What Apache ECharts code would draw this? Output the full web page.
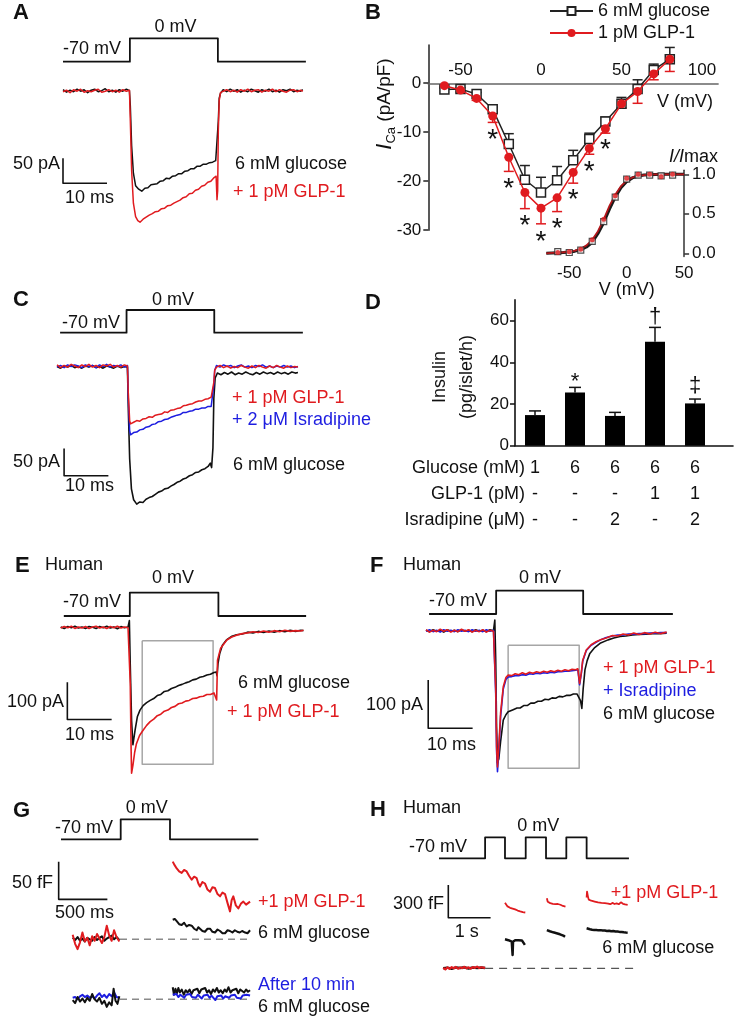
<!DOCTYPE html>
<html><head><meta charset="utf-8">
<script src="https://cdn.jsdelivr.net/npm/echarts@6.0.0/dist/echarts.min.js"></script>
<style>html,body{margin:0;padding:0;background:#fff}#c{width:741px;height:1020px}</style>
</head><body><div id="c"></div><script>
// ================= DATA =================
// Panel A (mouse beta cell, ms / pA / mV)
const stepA_mV = [[0,-70],[15.2,-70],[15.2,0],[35.2,0],[35.2,-70],[55.2,-70]];
const glucoseA_pA = [[0,2],[0.8,-3],[1.6,1],[2.4,-2],[3.2,3],[4,-1],[4.8,2],[5.6,-4],[6.4,1],[7.2,3],[8,-2],[8.8,0],[9.6,4],[10.4,-2],[11.2,1],[12,-3],[12.8,2],[13.6,-1],[14.4,3],[15.1,0],
[15.3,-30],[15.6,-110],[16,-165],[16.5,-190],[17.2,-197],[17.9,-201],[18.6,-195],[19.3,-194],[20,-188],[20.7,-187],[21.4,-186],[22.1,-181],[22.8,-180],[23.5,-175],[24.2,-176],[24.9,-171],[25.6,-170],[26.3,-166],[27,-166],[27.7,-161],[28.4,-160],[29.1,-156],[29.8,-156],[30.5,-151],[31.2,-151],[31.9,-147],[32.6,-147],[33.3,-144],[34,-143],[34.7,-140],[35.1,-142],
[35.3,-60],[35.5,-15],[35.8,-5],[36.4,2],[37.2,-2],[38,3],[38.8,-1],[39.6,2],[40.4,-3],[41.2,1],[42,-2],[42.8,3],[43.6,0],[44.4,-3],[45.2,2],[46,-1],[46.8,3],[47.6,-2],[48.4,1],[49.2,-3],[50,2],[50.8,0],[51.6,3],[52.4,-2],[53.2,1],[54,-1],[54.5,2]];
const glp1A_pA = [[0,-2],[0.8,1],[1.6,-4],[2.4,2],[3.2,-1],[4,3],[4.8,-3],[5.6,0],[6.4,-2],[7.2,1],[8,3],[8.8,-3],[9.6,-1],[10.4,2],[11.2,-2],[12,1],[12.8,-3],[13.6,2],[14.4,-1],[15.1,1],
[15.3,-60],[15.6,-160],[16,-225],[16.5,-252],[17,-260],[17.5,-263],[18.2,-257],[18.9,-253],[19.6,-249],[20.3,-246],[21,-242],[21.7,-241],[22.4,-236],[23.1,-235],[23.8,-230],[24.5,-229],[25.2,-225],[25.9,-222],[26.6,-219],[27.3,-214],[28,-212],[28.7,-206],[29.4,-205],[30.1,-199],[30.8,-197],[31.5,-191],[32.2,-189],[32.9,-183],[33.6,-181],[34.2,-175],[34.8,-171],[35.0,-218],[35.15,-200],
[35.3,-80],[35.5,-20],[35.8,-4],[36.4,-1],[37.2,2],[38,-2],[38.8,1],[39.6,-3],[40.4,2],[41.2,-1],[42,3],[42.8,-2],[43.6,1],[44.4,2],[45.2,-3],[46,1],[46.8,-1],[47.6,3],[48.4,-2],[49.2,2],[50,-1],[50.8,-3],[51.6,1],[52.4,2],[53.2,-2],[54,1],[54.5,-1]];
const scaleA = {ms: 10, pA: 50};

// Panel B: I-V relation (mV, pA/pF)
const ivVoltage = [-60,-50,-40,-30,-20,-10,0,10,20,30,40,50,60,70,80];
const ivGlucose = [-1.3,-1.2,-2.2,-5.3,-12.4,-19.7,-22.3,-19.8,-15.7,-11.4,-7.8,-4.2,-1.2,2.7,4.9];
const ivGlucoseSem = [0.3,0.3,0.3,0.4,2.1,2.9,3.1,2.8,2.0,1.2,0.9,1.3,1.9,1.2,2.4];
const ivGlp1 = [-0.5,-1.4,-3.1,-6.7,-15.1,-22.3,-25.5,-23.4,-18.2,-13.3,-9.3,-4.2,-1.7,1.9,4.9];
const ivGlp1Sem = [0.3,0.4,0.4,1.3,2.9,3.3,3.2,2.8,2.2,1.2,0.9,0.8,2.4,1.2,2.5];
const ivSigVoltage = [-30,-20,-10,0,10,20,30,40];
const ivSigLevel = [-10.2,-20.1,-27.6,-31.0,-28.2,-22.4,-16.7,-12.2];
const ivSeriesNames = ['6 mM glucose','1 pM GLP-1'];
// Panel B inset: activation (I/Imax)
const actVoltage = [-60,-50,-40,-30,-20,-10,0,10,20,30,40];
const actGlucose = [0.02,0.01,0.04,0.15,0.40,0.71,0.94,0.99,0.99,0.98,0.99];
const actGlp1 = [0.01,0.02,0.05,0.17,0.43,0.73,0.95,1.0,1.0,0.97,1.0];
const fitVoltage = [-70,-65,-60,-55,-50,-45,-40,-35,-30,-25,-20,-15,-10,-5,0,5,10,15,20,25,30,35,40,45,50];
const fitGlucose = [0,0.003,0.006,0.01,0.016,0.027,0.045,0.08,0.14,0.25,0.39,0.56,0.71,0.83,0.91,0.955,0.978,0.99,0.995,0.998,1,1,1,1,1];
const fitGlp1 = [0,0.004,0.008,0.013,0.021,0.035,0.058,0.1,0.17,0.28,0.43,0.6,0.74,0.85,0.92,0.96,0.98,0.99,0.996,0.998,1,1,1,1,1];

// Panel C (ms / pA)
const stepC_mV = [[0.7,-70],[15.7,-70],[15.7,0],[35.5,0],[35.5,-70],[55.5,-70]];
const glp1C_pA = [[0,2],[0.8,-3],[1.6,1],[2.4,-2],[3.2,3],[4,0],[4.8,-3],[5.6,2],[6.4,-1],[7.2,3],[8,-2],[8.8,1],[9.6,-3],[10.4,2],[11.2,0],[12,3],[12.8,-2],[13.6,1],[14.4,-2],[15.2,2],[15.9,0],
[16.1,-50],[16.4,-100],[16.6,-106],[17.3,-103],[18,-100],[18.7,-101],[19.4,-97],[20.1,-96],[20.8,-93],[21.5,-94],[22.2,-90],[22.9,-89],[23.6,-88],[24.3,-84],[25,-85],[25.7,-81],[26.4,-80],[27.1,-78],[27.8,-77],[28.5,-73],[29.2,-72],[29.9,-70],[30.6,-69],[31.3,-66],[32,-64],[32.7,-64],[33.4,-61],[34.1,-60],[34.8,-57],[35.2,-55],
[35.4,-30],[35.6,-8],[36,-2],[36.8,1],[37.6,-3],[38.4,0],[39.2,-4],[40,-1],[40.8,-3],[41.6,1],[42.4,-2],[43.2,-4],[44,0],[44.8,-3],[45.6,1],[46.4,-2],[47.2,-4],[48,0],[48.8,-3],[49.6,1],[50.4,-2],[51.2,-4],[52,0],[52.8,-3],[53.6,-1],[54.4,-2]];
const isradipineC_pA = [[0,-2],[0.8,1],[1.6,-3],[2.4,2],[3.2,-1],[4,2],[4.8,0],[5.6,-3],[6.4,2],[7.2,-1],[8,1],[8.8,-3],[9.6,2],[10.4,-1],[11.2,3],[12,-2],[12.8,1],[13.6,-1],[14.4,2],[15.2,-2],[15.9,1],
[16.1,-60],[16.4,-118],[16.6,-126],[17.3,-122],[18,-121],[18.7,-117],[19.4,-116],[20.1,-112],[20.8,-111],[21.5,-107],[22.2,-106],[22.9,-102],[23.6,-101],[24.3,-98],[25,-97],[25.7,-94],[26.4,-92],[27.1,-90],[27.8,-89],[28.5,-85],[29.2,-85],[29.9,-83],[30.6,-82],[31.3,-79],[32,-79],[32.7,-77],[33.4,-77],[34.1,-74],[34.8,-74],[35.2,-72],
[35.4,-35],[35.6,-8],[36,1],[36.8,-2],[37.6,2],[38.4,-1],[39.2,1],[40,-3],[40.8,0],[41.6,2],[42.4,-2],[43.2,0],[44,-3],[44.8,1],[45.6,-1],[46.4,2],[47.2,-2],[48,0],[48.8,-3],[49.6,0],[50.4,-2],[51.2,1],[52,-2],[52.8,0],[53.6,-3],[54.4,-1]];
const glucoseC_pA = [[0,-1],[0.8,-4],[1.6,0],[2.4,-2],[3.2,1],[4,-3],[4.8,-1],[5.6,-4],[6.4,0],[7.2,-2],[8,1],[8.8,-3],[9.6,-1],[10.4,-4],[11.2,0],[12,-2],[12.8,-4],[13.6,0],[14.4,-3],[15.2,-1],[15.9,-2],
[16.1,-80],[16.4,-170],[16.8,-225],[17.3,-245],[18,-253],[18.7,-249],[19.4,-250],[20.1,-244],[20.8,-241],[21.5,-239],[22.2,-235],[22.9,-231],[23.6,-229],[24.3,-225],[25,-224],[25.7,-220],[26.4,-217],[27.1,-213],[27.8,-211],[28.5,-207],[29.2,-205],[29.9,-201],[30.6,-199],[31.3,-195],[32,-194],[32.7,-190],[33.4,-188],[34.1,-184],[34.6,-178],[34.9,-186],
[35.2,-150],[35.4,-60],[35.7,-22],[36.2,-13],[37,-16],[37.8,-12],[38.6,-15],[39.4,-11],[40.2,-16],[41,-13],[41.8,-15],[42.6,-11],[43.4,-14],[44.2,-16],[45,-12],[45.8,-15],[46.6,-11],[47.4,-14],[48.2,-12],[49,-15],[49.8,-11],[50.6,-14],[51.4,-12],[52.2,-15],[53,-11],[53.8,-13],[54.4,-12]];
const scaleC = {ms: 10, pA: 50};

// Panel D: insulin secretion (pg/islet/h)
const insulinMean = [14.7, 25.6, 14.3, 49.9, 20.3];
const insulinSem = [2.0, 2.4, 1.7, 6.9, 2.1];
const insulinSig = ['', '*', '', '\u2020', '\u2021'];
const insulinSigLevel = [null, 33.5, null, 62.3, 29.1];
const glucoseMM = ['1','6','6','6','6'];
const glp1PM = ['-','-','-','1','1'];
const isradipineUM = ['-','-','2','-','2'];
const tableRows = ['Glucose (mM)','GLP-1 (pM)','Isradipine (\u03bcM)'];

// Panel E (human, ms / pA)
const stepE_mV = [[0.7,-70],[15.6,-70],[15.6,0],[35.6,0],[35.6,-70],[55.4,-70]];
const glucoseE_pA = [[0,1],[0.8,-3],[1.6,2],[2.4,-1],[3.2,3],[4,-2],[4.8,1],[5.6,-3],[6.4,2],[7.2,0],[8,-3],[8.8,2],[9.6,-1],[10.4,3],[11.2,-2],[12,1],[12.8,-4],[13.6,2],[14.4,-1],[15.2,1],[15.5,18],
[15.7,-100],[16,-250],[16.3,-315],[16.8,-275],[17.3,-240],[17.9,-222],[18.6,-210],[19.4,-202],[20.2,-196],[21,-191],[21.8,-183],[22.6,-180],[23.4,-172],[24.2,-170],[25,-164],[25.8,-161],[26.6,-156],[27.4,-153],[28.2,-149],[29,-146],[29.8,-141],[30.6,-139],[31.4,-134],[32.2,-132],[33,-128],[33.8,-126],[34.6,-121],[35.1,-120],[35.3,-130],
[35.5,-98],[35.9,-70],[36.5,-48],[37.5,-33],[38.5,-25],[39.7,-20],[41,-18],[42.2,-13],[43.4,-15],[44.6,-11],[45.8,-14],[47,-10],[48.2,-13],[49.4,-9],[50.6,-12],[51.8,-8],[53,-11],[54.2,-8],[54.8,-9]];
const glp1E_pA = [[0,-2],[0.8,2],[1.6,-1],[2.4,3],[3.2,-3],[4,1],[4.8,-2],[5.6,2],[6.4,-3],[7.2,1],[8,3],[8.8,-2],[9.6,1],[10.4,-3],[11.2,2],[12,-1],[12.8,3],[13.6,-2],[14.4,1],[15.2,-1],[15.5,0],
[15.7,-150],[15.9,-330],[16.0,-391],[16.3,-370],[16.7,-335],[17.1,-312],[17.8,-290],[18.6,-276],[19.4,-263],[20.2,-253],[21,-246],[21.8,-237],[22.6,-233],[23.4,-225],[24.2,-222],[25,-215],[25.8,-212],[26.6,-205],[27.4,-203],[28.2,-198],[29,-196],[29.8,-191],[30.6,-190],[31.4,-186],[32.2,-185],[33,-180],[33.8,-180],[34.6,-176],[35.0,-178],[35.2,-195],
[35.4,-88],[36.1,-56],[37.5,-34],[38.6,-26],[39.7,-21],[41,-17],[42.2,-15],[43.4,-12],[44.6,-14],[45.8,-10],[47,-13],[48.2,-9],[49.4,-12],[50.6,-8],[51.8,-11],[53,-9],[54.2,-10],[54.8,-8]];
const windowE = {t0: 18.4, t1: 34.4, i0: -36, i1: -367};
const scaleE = {ms: 10, pA: 100};

// Panel F (human, ms / pA)
const stepF_mV = [[0.7,-70],[15.8,-70],[15.8,0],[35.4,0],[35.4,-70],[55.6,-70]];
const glp1F_pA = [[0,2],[0.8,-3],[1.6,1],[2.4,-2],[3.2,3],[4,-1],[4.8,2],[5.6,-3],[6.4,1],[7.2,-2],[8,3],[8.8,-1],[9.6,2],[10.4,-3],[11.2,1],[12,-2],[12.8,2],[13.6,-3],[14.4,1],[15.2,-1],[15.5,0],
[15.7,-120],[15.9,-240],[16.1,-282],[16.4,-240],[16.8,-170],[17.4,-116],[18,-97],[18.5,-92],[19.3,-93],[20.1,-89],[20.9,-91],[21.7,-87],[22.5,-90],[23.3,-86],[24.1,-88],[24.9,-85],[25.7,-87],[26.5,-84],[27.3,-86],[28.1,-83],[28.9,-85],[29.7,-82],[30.5,-84],[31.3,-81],[32.1,-83],[32.9,-80],[33.7,-81],[34.2,-79],[34.6,-109],
[35,-85],[35.3,-61],[36.1,-40],[37.2,-29],[38.3,-23],[39.5,-18],[40.6,-15],[42,-10],[43.2,-11],[44.4,-7],[45.6,-9],[46.8,-5],[48,-8],[49.2,-4],[50.4,-7],[51.6,-3],[52.8,-6],[54.2,-3]];
const isradipineF_pA = [[0,-1],[0.8,2],[1.6,-2],[2.4,1],[3.2,-3],[4,2],[4.8,-1],[5.6,1],[6.4,-2],[7.2,2],[8,-1],[8.8,1],[9.6,-2],[10.4,2],[11.2,-1],[12,1],[12.8,-2],[13.6,2],[14.4,-1],[15.2,1],[15.5,0],
[15.7,-130],[15.9,-250],[16.1,-292],[16.4,-250],[16.8,-178],[17.4,-121],[18,-101],[18.5,-96],[19.3,-95],[20.1,-93],[20.9,-93],[21.7,-91],[22.5,-92],[23.3,-89],[24.1,-90],[24.9,-88],[25.7,-89],[26.5,-87],[27.3,-88],[28.1,-86],[28.9,-87],[29.7,-85],[30.5,-85],[31.3,-84],[32.1,-84],[32.9,-83],[33.7,-82],[34.2,-81],[34.6,-112],
[35,-88],[35.3,-63],[36.1,-41],[37.2,-30],[38.3,-24],[39.5,-18],[40.6,-14],[42,-11],[43.2,-9],[44.4,-9],[45.6,-7],[46.8,-7],[48,-6],[49.2,-6],[50.4,-5],[51.6,-5],[52.8,-4],[54.2,-4]];
const glucoseF_pA = [[0,1],[0.8,-2],[1.6,2],[2.4,-1],[3.2,1],[4,-3],[4.8,2],[5.6,-1],[6.4,1],[7.2,-2],[8,2],[8.8,-1],[9.6,1],[10.4,-2],[11.2,2],[12,-1],[12.8,1],[13.6,-2],[14.4,2],[15.2,0],[15.5,22],
[15.7,-60],[15.9,-200],[16.1,-274],[16.4,-265],[16.8,-230],[17.4,-185],[18,-174],[18.5,-168],[19.5,-164],[20.5,-160],[21.2,-160],[22,-155],[22.8,-155],[23.6,-150],[24.4,-150],[25.2,-146],[26,-146],[26.8,-142],[27.6,-143],[28.4,-139],[29.2,-140],[30,-136],[30.8,-137],[31.6,-134],[32.4,-134],[33.2,-131],[34,-131],[34.4,-131],[34.8,-145],[35.1,-161],
[35.4,-120],[35.8,-81],[36.3,-62],[36.9,-47],[38,-35],[39.2,-26],[41,-19],[42.3,-15],[43.7,-12],[45,-11],[46.5,-9],[48,-8],[49.5,-7],[51,-6],[52.5,-6],[54.2,-5]];
const windowF = {t0: 18.5, t1: 34.5, i0: -30, i1: -285};
const scaleF = {ms: 10, pA: 100};

// Panel G (ms / fF)
const stepG_mV = [[0,-70],[613,-70],[613,0],[1119,0],[1119,-70],[2026,-70]];
const glp1G_pre = [[120,6],[145,-6],[170,-13],[195,-4],[220,9],[245,-3],[270,2],[295,-8],[320,4],[345,-2],[370,7],[395,1],[420,-5],[445,3],[470,18],[495,5],[520,-2],[545,12],[570,3],[599,-3]];
const glucoseG_pre = [[120,2],[145,-1],[170,3],[195,-2],[220,1],[245,-3],[270,2],[295,0],[320,-2],[345,3],[370,-1],[395,2],[420,4],[445,-2],[470,1],[495,3],[520,5],[545,0],[570,3],[599,-1]];
const glp1G_post = [[1147,103],[1168,98],[1188,94],[1213,90],[1239,88],[1264,92],[1290,90],[1316,84],[1342,79],[1367,83],[1393,81],[1410,74],[1427,70],[1452,76],[1478,74],[1504,66],[1530,63],[1555,69],[1581,68],[1607,60],[1633,57],[1658,62],[1684,60],[1710,48],[1735,37],[1752,52],[1769,57],[1795,45],[1821,41],[1846,47],[1872,50],[1900,46],[1941,50]];
const glucoseG_post = [[1147,26],[1168,27],[1188,24],[1213,20],[1239,19],[1264,22],[1290,17],[1316,19],[1342,18],[1367,14],[1393,12],[1410,16],[1427,16],[1452,11],[1478,10],[1504,14],[1530,14],[1555,10],[1581,9],[1607,13],[1633,11],[1658,8],[1684,8],[1710,12],[1735,11],[1760,9],[1785,12],[1810,10],[1835,9],[1860,11],[1890,9],[1915,8],[1941,12]];
const glucoseG2_pre = [[120,-1],[145,-5],[170,3],[195,-3],[220,1],[245,-4],[270,2],[295,-2],[320,7],[345,0],[370,-3],[395,2],[420,-6],[445,-2],[470,-10],[495,-4],[520,-8],[540,14],[560,-2],[580,-6],[599,4]];
const after10G_pre = [[120,2],[145,3],[170,0],[195,4],[220,6],[245,3],[270,5],[295,2],[320,4],[345,1],[370,5],[395,8],[420,3],[445,6],[470,2],[495,7],[520,4],[545,9],[570,3],[599,2]];
const glucoseG2_post = [[1147,16],[1160,6],[1175,14],[1190,8],[1205,15],[1220,9],[1240,13],[1260,6],[1280,12],[1300,9],[1320,13],[1340,7],[1360,12],[1380,10],[1400,14],[1420,8],[1440,13],[1460,11],[1480,15],[1500,9],[1520,12],[1540,7],[1560,13],[1580,10],[1600,15],[1620,9],[1640,12],[1660,8],[1680,13],[1700,10],[1720,16],[1740,9],[1760,12],[1780,10],[1800,14],[1820,8],[1840,13],[1860,11],[1880,9],[1900,13],[1920,10],[1941,12]];
const after10G_post = [[1147,6],[1165,4],[1185,7],[1205,3],[1225,6],[1245,5],[1265,2],[1285,6],[1305,4],[1325,7],[1345,3],[1365,5],[1385,2],[1405,6],[1425,4],[1445,1],[1465,5],[1485,3],[1505,6],[1525,2],[1545,5],[1565,3],[1585,-1],[1605,4],[1625,2],[1645,5],[1665,1],[1685,4],[1705,6],[1725,2],[1745,5],[1765,3],[1785,6],[1805,2],[1825,4],[1845,1],[1865,5],[1885,3],[1905,6],[1925,4],[1941,5]];
const baselineG = [[606,0],[1941,0]];
const scaleG = {ms: 500, fF: 50};

// Panel H (s / fF)
const stepH_mV = [[0,-70],[1.09,-70],[1.09,0],[1.56,0],[1.56,-70],[2.05,-70],[2.05,0],[2.53,0],[2.53,-70],[3.01,-70],[3.01,0],[3.49,0],[3.49,-70],[4.49,-70]];
const glp1H_pre = [[0.1,5],[0.15,-10],[0.2,8],[0.25,-5],[0.3,10],[0.35,0],[0.4,12],[0.45,-4],[0.5,7],[0.55,2],[0.6,14],[0.65,0],[0.7,9],[0.75,-3],[0.8,11],[0.85,4],[0.9,15],[0.95,2],[1.0,10],[1.05,6],[1.09,4]];
const glucoseH_pre = [[0.1,0],[0.2,6],[0.3,-4],[0.4,8],[0.5,2],[0.6,9],[0.7,-2],[0.8,7],[0.9,3],[1.0,8],[1.09,2]];
const glp1H_post1 = [[1.56,602],[1.59,585],[1.62,568],[1.65,575],[1.68,555],[1.71,560],[1.74,548],[1.77,545],[1.80,540],[1.83,545],[1.86,530],[1.89,535],[1.92,522],[1.95,525],[1.98,515],[2.01,520],[2.04,512]];
const glp1H_post2 = [[2.55,642],[2.57,610],[2.6,605],[2.63,598],[2.66,602],[2.69,592],[2.72,595],[2.75,588],[2.78,585],[2.81,590],[2.84,580],[2.87,583],[2.9,575],[2.93,572],[2.96,568],[2.99,565]];
const glp1H_post3 = [[3.49,650],[3.50,703],[3.52,660],[3.54,630],[3.57,615],[3.60,620],[3.64,608],[3.68,612],[3.72,600],[3.76,604],[3.80,596],[3.84,600],[3.88,592],[3.92,597],[3.96,590],[4.0,594],[4.05,588],[4.1,600],[4.15,590],[4.2,596],[4.25,588],[4.3,605],[4.35,592],[4.4,586],[4.46,582]];
const glucoseH_post1 = [[1.56,266],[1.6,262],[1.64,258],[1.68,255],[1.72,244],[1.74,122],[1.75,244],[1.80,258],[1.84,262],[1.88,258],[1.92,262],[1.96,256],[2.0,240],[2.03,215]];
const glucoseH_post2 = [[2.55,351],[2.58,345],[2.62,340],[2.66,336],[2.70,330],[2.74,325],[2.78,322],[2.82,318],[2.86,312],[2.90,306],[2.94,300],[2.98,290]];
const glucoseH_post3 = [[3.49,367],[3.53,360],[3.57,358],[3.62,354],[3.67,351],[3.72,352],[3.77,348],[3.82,350],[3.87,346],[3.92,347],[3.97,343],[4.02,345],[4.07,340],[4.12,342],[4.17,337],[4.22,338],[4.27,334],[4.32,333],[4.37,330],[4.42,328],[4.46,327]];
const baselineH = [[1.09,0],[4.67,0]];
const scaleH = {s: 1, fF: 300};

// ================= LAYOUT / STYLE =================
const FONT = '"Liberation Sans", Arial, Helvetica, sans-serif';
const RED = '#e01b1f', BLUE = '#1d1de0', BLACK = '#111111', GRAY = '#a6a6a6', DASH = '#8a8a8a';
const grids = [], xAxes = [], yAxes = [], series = [], graphics = [];

function frame(x0, y0, sx, sy, xr, yr) {
  const gi = grids.length;
  grids.push({left: x0 + xr[0]*sx, top: y0 - yr[1]*sy, width: (xr[1]-xr[0])*sx, height: (yr[1]-yr[0])*sy, outerBoundsMode: 'none'});
  xAxes.push({gridIndex: gi, type: 'value', min: xr[0], max: xr[1], show: false});
  yAxes.push({gridIndex: gi, type: 'value', min: yr[0], max: yr[1], show: false});
  return gi;
}
function trace(gi, data, color, width, extra) {
  series.push(Object.assign({type: 'line', xAxisIndex: gi, yAxisIndex: gi, data, symbol: 'none', clip: false, silent: true,
    lineStyle: {color, width: width || 1.5, join: 'round'}, z: 2}, extra || {}));
}
function scaleBar(gi, corner, dx, dy) {
  trace(gi, [[corner[0], corner[1] + dy], corner, [corner[0] + dx, corner[1]]], BLACK, 1.6);
}
function box(gi, w) {
  trace(gi, [[w.t0, w.i0], [w.t1, w.i0], [w.t1, w.i1], [w.t0, w.i1], [w.t0, w.i0]], GRAY, 1.5, {z: 1});
}
function label(x, y, text, o) {
  o = o || {};
  const al = o.align || 'left';
  graphics.push({type: 'text', x, y, rotation: o.rot || 0, silent: true, z: 10,
    style: {text, fill: o.color || BLACK, font: (o.weight || 'normal') + ' ' + (o.size || 18) + 'px ' + FONT,
      align: al, textAlign: al, verticalAlign: 'middle', textVerticalAlign: 'middle', rich: o.rich, lineHeight: o.lh}});
}
function errRender(dir, color, half) {
  return function (params, api) {
    const x = api.value(0), y = api.value(1), e = api.value(2);
    const a = api.coord([x, y]), b = api.coord([x, y + dir * e]);
    const st = {stroke: color, lineWidth: 1.5};
    return {type: 'group', children: [
      {type: 'line', shape: {x1: a[0], y1: a[1], x2: b[0], y2: b[1]}, style: st},
      {type: 'line', shape: {x1: b[0] - half, y1: b[1], x2: b[0] + half, y2: b[1]}, style: st}]};
  };
}
// significance marks; the asterisk glyph sits high in the em box, so it is nudged down
function textMarks(gi, xs, ys, texts, size) {
  const data = [];
  xs.forEach((x, i) => { if (ys[i] != null && texts[i]) data.push([x, ys[i], i]); });
  series.push({type: 'custom', xAxisIndex: gi, yAxisIndex: gi, clip: false, silent: true, z: 5, data,
    renderItem: (params, api) => {
      const c = api.coord([api.value(0), api.value(1)]);
      const t = texts[api.value(2)];
      const dy = t === '*' ? size * 0.27 : 1;
      return {type: 'text', x: c[0], y: c[1] + dy, style: {text: t, fill: BLACK,
        font: size + 'px ' + FONT, align: 'center', textAlign: 'center', verticalAlign: 'middle', textVerticalAlign: 'middle'}};
    }});
}
const axisFont = {fontFamily: FONT, color: BLACK};

// ---------- Panel A ----------
const aV = frame(63, 38.3, 4.4, 0.334, [-2, 60], [-90, 20]);
trace(aV, stepA_mV, BLACK, 1.8);
const aI = frame(63, 90.7, 4.4, 0.5, [-2, 60], [-300, 40]);
trace(aI, glucoseA_pA, BLACK, 1.5);
trace(aI, glp1A_pA, RED, 1.5, {z: 3});
scaleBar(aI, [0, -185], scaleA.ms, scaleA.pA);
label(13, 12.5, 'A', {weight: 'bold', size: 22});
label(63, 49, '-70 mV');
label(175.5, 27, '0 mV', {align: 'center'});
label(60, 164, '50 pA', {align: 'right'});
label(65, 198, '10 ms');
label(235, 164.3, '6 mM glucose');
label(233, 192.5, '+ 1 pM GLP-1', {color: RED});

// ---------- Panel B ----------
const bMain = grids.length;
grids.push({left: 428.3, top: 45, width: 289.8, height: 185.2, outerBoundsMode: 'none'});
// x axis sits on I = 0 (38.3 px below the grid top), labels above it
xAxes.push({gridIndex: bMain, type: 'value', min: -70, max: 110, position: 'top', offset: -38.3,
  axisLine: {onZero: false, lineStyle: {color: '#666', width: 1.6}}, axisTick: {show: false}, splitLine: {show: false},
  axisLabel: Object.assign({margin: 4, fontSize: 17, customValues: [-50, 0, 50, 100]}, axisFont)});
yAxes.push({gridIndex: bMain, type: 'value', min: -30, max: 7.8,
  axisLine: {show: true, onZero: false, lineStyle: {color: '#222', width: 1.5}},
  axisTick: {show: true, length: 5, lineStyle: {color: '#222', width: 1.5}, customValues: [-30, -20, -10, 0]},
  splitLine: {show: false}, axisLabel: Object.assign({margin: 7, fontSize: 17, customValues: [-30, -20, -10, 0]}, axisFont)});
series.push({type: 'custom', xAxisIndex: bMain, yAxisIndex: bMain, z: 1, silent: true,
  data: ivVoltage.map((v, i) => [v, ivGlucose[i], ivGlucoseSem[i]]), renderItem: errRender(1, '#222', 5)});
series.push({type: 'custom', xAxisIndex: bMain, yAxisIndex: bMain, z: 1, silent: true,
  data: ivVoltage.map((v, i) => [v, ivGlp1[i], ivGlp1Sem[i]]), renderItem: errRender(-1, RED, 5)});
series.push({type: 'line', name: ivSeriesNames[0], xAxisIndex: bMain, yAxisIndex: bMain, z: 3,
  data: ivVoltage.map((v, i) => [v, ivGlucose[i]]), symbol: 'rect', symbolSize: 9,
  itemStyle: {color: '#fff', borderColor: '#222', borderWidth: 1.5}, lineStyle: {color: '#222', width: 1.5}});
series.push({type: 'line', name: ivSeriesNames[1], xAxisIndex: bMain, yAxisIndex: bMain, z: 4,
  data: ivVoltage.map((v, i) => [v, ivGlp1[i]]), symbol: 'circle', symbolSize: 9,
  itemStyle: {color: RED, borderColor: RED, borderWidth: 0}, lineStyle: {color: RED, width: 1.5}});
textMarks(bMain, ivSigVoltage, ivSigLevel, ivSigVoltage.map(() => '*'), 28);

const bIn = grids.length;
grids.push({left: 546.3, top: 170.35, width: 137.8, height: 86.1, outerBoundsMode: 'none'});
xAxes.push({gridIndex: bIn, type: 'value', min: -70, max: 50, axisLine: {show: false, onZero: false}, axisTick: {show: false},
  splitLine: {show: false}, axisLabel: Object.assign({margin: 8, fontSize: 17, customValues: [-50, 0, 50]}, axisFont)});
yAxes.push({gridIndex: bIn, type: 'value', position: 'right', min: -0.04, max: 1.05,
  axisLine: {show: true, onZero: false, lineStyle: {color: '#333', width: 1.5}},
  axisTick: {show: true, length: 5, lineStyle: {color: '#333', width: 1.5}, customValues: [0, 0.5, 1]},
  splitLine: {show: false}, axisLabel: Object.assign({margin: 8, fontSize: 17, customValues: [0, 0.5, 1], formatter: v => v.toFixed(1)}, axisFont)});
trace(bIn, fitVoltage.map((v, i) => [v, fitGlucose[i]]), '#1a1a1a', 3, {z: 2});
trace(bIn, fitVoltage.map((v, i) => [v, fitGlp1[i]]), '#b3161a', 1.8, {z: 3});
series.push({type: 'scatter', xAxisIndex: bIn, yAxisIndex: bIn, z: 4, silent: true, symbol: 'rect', symbolSize: 6,
  data: actVoltage.map((v, i) => [v, actGlucose[i]]), itemStyle: {color: '#fff', borderColor: '#222', borderWidth: 1.2}});
series.push({type: 'scatter', xAxisIndex: bIn, yAxisIndex: bIn, z: 5, silent: true, symbol: 'circle', symbolSize: 5,
  data: actVoltage.map((v, i) => [v, actGlp1[i]]), itemStyle: {color: RED}});
label(365, 12.5, 'B', {weight: 'bold', size: 22});
label(713, 101.7, 'V (mV)', {align: 'right'});
label(626.7, 290, 'V (mV)', {align: 'center'});
label(718, 157, '{it|I/I}{n|max}', {align: 'right', rich: {it: {fontStyle: 'italic', fontSize: 18, fontFamily: FONT}, n: {fontSize: 18, fontFamily: FONT}}});
label(385, 104, '{i|I}{s|Ca}{t| (pA/pF)}', {align: 'center', rot: Math.PI / 2, rich: {
  i: {fontStyle: 'italic', fontSize: 22, fontFamily: FONT, lineHeight: 26, verticalAlign: 'middle'},
  s: {fontSize: 13, fontFamily: FONT, lineHeight: 26, verticalAlign: 'bottom'},
  t: {fontSize: 19, fontFamily: FONT, lineHeight: 26, verticalAlign: 'middle'}}});

// ---------- Panel C ----------
const cV = frame(57, 310, 4.43, 0.324, [-2, 60], [-90, 20]);
trace(cV, stepC_mV, BLACK, 1.8);
const cI = frame(57, 366, 4.43, 0.546, [-2, 60], [-280, 30]);
trace(cI, glucoseC_pA, BLACK, 1.6, {z: 2});
trace(cI, isradipineC_pA, BLUE, 1.5, {z: 3});
trace(cI, glp1C_pA, RED, 1.5, {z: 4});
scaleBar(cI, [1.6, -201], scaleC.ms, scaleC.pA);
label(13, 300, 'C', {weight: 'bold', size: 22});
label(62, 322.7, '-70 mV');
label(173, 300, '0 mV', {align: 'center'});
label(232, 398.3, '+ 1 pM GLP-1', {color: RED});
label(232, 420, '+ 2 \u03bcM Isradipine', {color: BLUE});
label(233, 465, '6 mM glucose');
label(60, 461.7, '50 pA', {align: 'right'});
label(65, 486, '10 ms');

// ---------- Panel D ----------
const dG = grids.length;
grids.push({left: 515, top: 299.9, width: 218, height: 145.8, outerBoundsMode: 'none'});
xAxes.push({gridIndex: dG, type: 'value', min: -0.5, max: 4.95,
  axisLine: {onZero: false, lineStyle: {color: BLACK, width: 1.6}}, axisTick: {show: false}, splitLine: {show: false},
  axisLabel: Object.assign({margin: 9.3, fontSize: 18, lineHeight: 26, customValues: [0, 1, 2, 3, 4],
    formatter: v => glucoseMM[v] + '\n' + glp1PM[v] + '\n' + isradipineUM[v]}, axisFont)});
yAxes.push({gridIndex: dG, type: 'value', min: 0, max: 70,
  axisLine: {show: true, onZero: false, lineStyle: {color: BLACK, width: 1.6}},
  axisTick: {show: true, length: 5, lineStyle: {color: BLACK, width: 1.5}, customValues: [0, 20, 40, 60]},
  splitLine: {show: false}, axisLabel: Object.assign({margin: 6, fontSize: 17, customValues: [0, 20, 40, 60]}, axisFont)});
series.push({type: 'custom', xAxisIndex: dG, yAxisIndex: dG, z: 1, silent: true,
  data: insulinMean.map((v, i) => [i, v, insulinSem[i]]), renderItem: errRender(1, BLACK, 6)});
series.push({type: 'bar', xAxisIndex: dG, yAxisIndex: dG, z: 2, silent: true, barWidth: 20,
  data: insulinMean.map((v, i) => [i, v]), itemStyle: {color: '#000'}});
textMarks(dG, insulinMean.map((v, i) => i), insulinSigLevel, insulinSig, 22);
label(365, 302.5, 'D', {weight: 'bold', size: 22});
label(453.5, 377, 'Insulin\n(pg/islet/h)', {align: 'center', rot: Math.PI / 2, lh: 27});
label(525, 468, tableRows[0], {align: 'right'});
label(525, 494, tableRows[1], {align: 'right'});
label(525, 520, tableRows[2], {align: 'right'});

// ---------- Panel E ----------
const eV = frame(60.7, 592.7, 4.43, 0.333, [-2, 60], [-90, 20]);
trace(eV, stepE_mV, BLACK, 1.8);
const eI = frame(60.7, 627.3, 4.43, 0.373, [-2, 60], [-420, 40]);
box(eI, windowE);
trace(eI, glucoseE_pA, BLACK, 1.6, {z: 2});
trace(eI, glp1E_pA, RED, 1.6, {z: 3});
scaleBar(eI, [1.5, -247], scaleE.ms, scaleE.pA);
label(15, 565.5, 'E', {weight: 'bold', size: 22});
label(45, 565, 'Human');
label(63, 601.7, '-70 mV');
label(173, 578.3, '0 mV', {align: 'center'});
label(238, 683.3, '6 mM glucose');
label(227, 711.7, '+ 1 pM GLP-1', {color: RED});
label(64, 701.7, '100 pA', {align: 'right'});
label(65, 735, '10 ms');

// ---------- Panel F ----------
const fV = frame(426, 590.7, 4.44, 0.333, [-2, 60], [-90, 20]);
trace(fV, stepF_mV, BLACK, 1.8);
const fI = frame(426, 630.7, 4.44, 0.483, [-2, 60], [-320, 40]);
box(fI, windowF);
trace(fI, glucoseF_pA, BLACK, 1.6, {z: 2});
trace(fI, isradipineF_pA, BLUE, 1.6, {z: 3});
trace(fI, glp1F_pA, RED, 1.6, {z: 4});
scaleBar(fI, [0.5, -202], scaleF.ms, scaleF.pA);
label(370, 565.5, 'F', {weight: 'bold', size: 22});
label(403, 565, 'Human');
label(429, 600.7, '-70 mV');
label(540, 578.3, '0 mV', {align: 'center'});
label(603, 668.3, '+ 1 pM GLP-1', {color: RED});
label(603, 691, '+ Isradipine', {color: BLUE});
label(603, 714.3, '6 mM glucose');
label(423, 705, '100 pA', {align: 'right'});
label(427, 745, '10 ms');

// ---------- Panel G ----------
const gV = frame(61, 819.3, 0.0974, 0.2857, [-100, 2100], [-90, 20]);
trace(gV, stepG_mV, BLACK, 1.8);
const g1 = frame(61, 939.3, 0.0974, 0.754, [-100, 2100], [-30, 120]);
trace(g1, baselineG, DASH, 1.5, {z: 1, lineStyle: {color: DASH, width: 1.5, type: [7, 5]}});
trace(g1, glucoseG_pre, BLACK, 2, {z: 2});
trace(g1, glp1G_pre, RED, 2, {z: 3});
trace(g1, glucoseG_post, BLACK, 2);
trace(g1, glp1G_post, RED, 2);
scaleBar(g1, [-24, 53], scaleG.ms, scaleG.fF);
const g2 = frame(61, 999.3, 0.0974, 0.754, [-100, 2100], [-30, 30]);
trace(g2, baselineG, DASH, 1.5, {z: 1, lineStyle: {color: DASH, width: 1.5, type: [7, 5]}});
trace(g2, after10G_pre, BLUE, 2, {z: 2});
trace(g2, glucoseG2_pre, BLACK, 2, {z: 3});
trace(g2, glucoseG2_post, BLACK, 2, {z: 2});
trace(g2, after10G_post, BLUE, 2, {z: 3});
label(13, 810.5, 'G', {weight: 'bold', size: 22});
label(55, 828.3, '-70 mV');
label(146.7, 808.3, '0 mV', {align: 'center'});
label(53, 883.3, '50 fF', {align: 'right'});
label(55, 913.3, '500 ms');
label(258, 901.7, '+1 pM GLP-1', {color: RED});
label(258, 932.7, '6 mM glucose');
label(258, 985, 'After 10 min', {color: BLUE});
label(258, 1006.7, '6 mM glucose');

// ---------- Panel H ----------
const hV = frame(439, 837.3, 42.3, 0.3, [-0.2, 4.8], [-90, 20]);
trace(hV, stepH_mV, BLACK, 1.8);
const hC = frame(439, 968.3, 42.3, 0.109, [-0.2, 4.8], [-50, 800]);
trace(hC, baselineH, '#555', 1.2, {z: 1, lineStyle: {color: '#555', width: 1.2, type: [8, 6]}});
trace(hC, glucoseH_pre, BLACK, 2.5, {z: 2});
trace(hC, glp1H_pre, RED, 2.2, {z: 3});
[glucoseH_post1, glucoseH_post2, glucoseH_post3].forEach(d => trace(hC, d, BLACK, 2.5));
[glp1H_post1, glp1H_post2, glp1H_post3].forEach(d => trace(hC, d, RED, 1.8));
scaleBar(hC, [0.22, 464], scaleH.s, scaleH.fF);
label(370, 809.5, 'H', {weight: 'bold', size: 22});
label(403, 808, 'Human');
label(409, 846.7, '-70 mV');
label(538.3, 826, '0 mV', {align: 'center'});
label(444, 904, '300 fF', {align: 'right'});
label(466.7, 931.7, '1 s', {align: 'center'});
label(610.7, 893.3, '+1 pM GLP-1', {color: RED});
label(602.3, 948.3, '6 mM glucose');

// ================= CHART =================
const chart = echarts.init(document.getElementById('c'), null, {renderer: 'canvas'});
chart.setOption({
  animation: false,
  backgroundColor: '#ffffff',
  textStyle: {fontFamily: FONT},
  legend: {orient: 'vertical', left: 549, top: 1, padding: 0, itemWidth: 43, itemHeight: 10, itemGap: 2,
    selectedMode: false, data: ivSeriesNames,
    textStyle: {fontSize: 18, fontFamily: FONT, color: BLACK, lineHeight: 20}},
  grid: grids, xAxis: xAxes, yAxis: yAxes, series,
  graphic: {elements: graphics}
});
</script></body></html>
